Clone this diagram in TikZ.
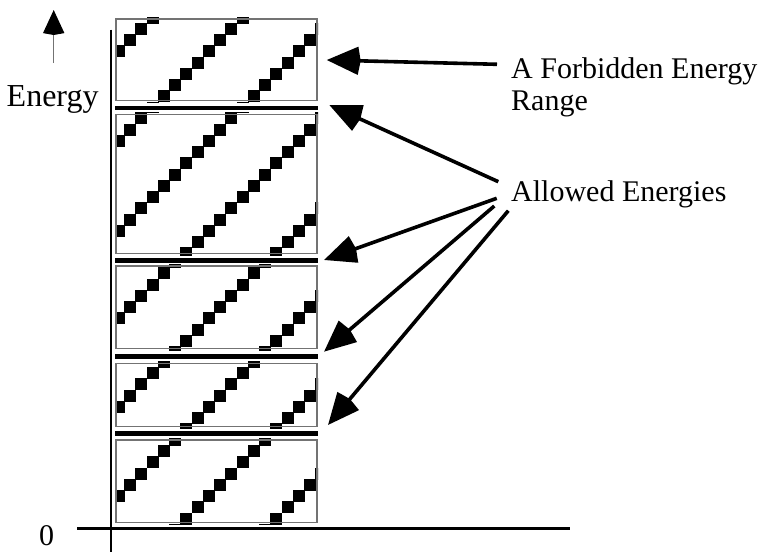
\documentclass[tikz,border=0pt]{standalone}
\usepackage{fontspec}
\setmainfont{Liberation Serif}
\usetikzlibrary{arrows.meta}
\newcommand\bandhatch[5]{%
  \begin{scope}
    \clip (115.5,#1-1.5) rectangle (318,#2+1.8);
    \foreach \i in {10,...,28}{
      \foreach \j in {#4,...,#5}{
        \pgfmathtruncatemacro\hatchr{mod(\i+\j,8)}
        \ifnum\hatchr=5
          \fill[black] (0.4+11.25*\i,#3-0.35+11.25*\j) rectangle ++(11.95,11.95);
        \fi
      }
    }
  \end{scope}}
\begin{document}
\begin{tikzpicture}[x=1pt,y=-1pt,
  bandbox/.style={draw=black!55, line width=1.1pt, inner sep=0pt, outer sep=0pt, minimum width=201pt, anchor=north west},
  gapbar/.style={fill=black, draw=none, inner sep=0pt, outer sep=0pt, minimum width=203pt, minimum height=4.7pt, anchor=west},
  axisline/.style={line width=2.6pt},
  pointer/.style={line width=3.6pt, -{Stealth[length=31pt,width=27pt,inset=-3pt]}},
  lbl/.style={font=\fontsize{30}{32}\selectfont, inner sep=0pt, anchor=base west},
]
\useasboundingbox (0,0) rectangle (770,552);

% hatched bands (top, bottom, phase, jmin, jmax)
\bandhatch{19}{100.7}{11.95}{0}{8}
\bandhatch{114.3}{253.3}{11.5}{8}{22}
\bandhatch{266}{348.7}{8.9}{22}{31}
\bandhatch{363.3}{426.7}{7.5}{31}{38}
\bandhatch{440}{522.3}{6.8}{38}{46}

\node[bandbox, minimum height=81.7pt] (b1) at (116,19) {};
\node[bandbox, minimum height=139pt] (b2) at (116,114.3) {};
\node[bandbox, minimum height=82.7pt] (b3) at (116,266) {};
\node[bandbox, minimum height=63.4pt] (b4) at (116,363.3) {};
\node[bandbox, minimum height=82.3pt] (b5) at (116,440) {};

\node[gapbar] (g1) at (115,108) {};
\node[gapbar] (g2) at (115,260.5) {};
\node[gapbar] (g3) at (115,356.7) {};
\node[gapbar] (g4) at (115,433.3) {};

% axes
\coordinate (ytop) at (110.8,29.5);
\coordinate (ybot) at (110.8,552);
\coordinate (xl) at (77,528.3);
\coordinate (xr) at (570,528.3);
\draw[axisline] (ytop) -- (ybot);
\draw[axisline] (xl) -- (xr);

% energy arrow
\coordinate (eshaft) at (53.7,63);
\coordinate (etip) at (53.7,10);
\draw[black!55, line width=1.3pt, -{Stealth[length=23pt,width=21pt,inset=-2pt,color=black]}] (eshaft) -- (etip);

% labels
\node[lbl, font=\fontsize{32}{34}\selectfont] (energy) at (6.5,106) {Energy};
\node[lbl, font=\fontsize{30}{32}\selectfont] (zero) at (39,545) {0};
\node[lbl, align=left, anchor=north west] (forb) at (511,57.8) {A Forbidden Energy\\Range};
\node[lbl] (allowed) at (511,201.7) {Allowed Energies};

% pointers
\coordinate (f0) at (497,64.3);   \coordinate (fp) at (326.7,60);
\coordinate (a1) at (498.3,181.7); \coordinate (p1) at (329.3,105);
\coordinate (a2) at (496.7,198.3); \coordinate (p2) at (324,260);
\coordinate (a3) at (494.3,206);   \coordinate (p3) at (324,351.7);
\coordinate (a4) at (508.3,210.7); \coordinate (p4) at (328,425);
\draw[pointer] (f0) -- (fp);
\draw[pointer] (a1) -- (p1);
\draw[pointer] (a2) -- (p2);
\draw[pointer] (a3) -- (p3);
\draw[pointer] (a4) -- (p4);
\end{tikzpicture}
\end{document}
